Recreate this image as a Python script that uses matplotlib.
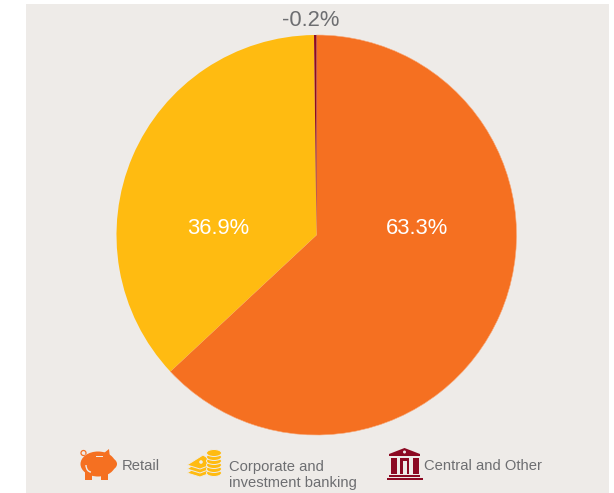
import matplotlib
matplotlib.use('Agg')
import matplotlib.pyplot as plt
from matplotlib.patches import Ellipse, Polygon, Rectangle, Circle, Arc

plt.rcParams['font.family'] = ['Liberation Sans', 'DejaVu Sans']

W, H = 614, 493
BG = '#eeebe8'
GREY = '#6d6e71'
ORANGE = '#f57021'
YELLOW = '#ffbb11'
RED = '#8c0a23'

# share of each segment, the last one is negative so its size is taken as abs
segments = ['Retail', 'Corporate and\ninvestment banking', 'Central and Other']
shares = [63.3, 36.9, -0.2]
colors = [ORANGE, YELLOW, RED]

fig = plt.figure(figsize=(W / 100, H / 100), dpi=100, facecolor='white')

# flat panel behind everything, in pixel coords
bg = fig.add_axes([0, 0, 1, 1])
bg.set_xlim(0, W)
bg.set_ylim(H, 0)
bg.axis('off')
bg.add_patch(Rectangle((26, 4), 583, 489, fc=BG, ec='none'))

# pie
cx, cy, r = 316.5, 235, 200
ax = fig.add_axes([(cx - r) / W, 1 - (cy + r) / H, 2 * r / W, 2 * r / H])
wedges, _ = ax.pie([abs(v) for v in shares], colors=colors, startangle=90, counterclock=False,
                   radius=1, wedgeprops={'linewidth': 0})
ax.set_xlim(-1, 1)
ax.set_ylim(-1, 1)
wedges[0].set(edgecolor='#f8a878', linewidth=0.4)

# second pixel layer so the labels sit on top of the pie
top = fig.add_axes([0, 0, 1, 1])
top.set_xlim(0, W)
top.set_ylim(H, 0)
top.axis('off')
top.patch.set_alpha(0)

# value labels
top.text(417, 228, '%.1f%%' % shares[0], color='white', fontsize=15.8, ha='center', va='center')
top.text(218, 228, '%.1f%%' % shares[1], color='white', fontsize=15.8, ha='center', va='center')
top.text(311, 21, '%.1f%%' % shares[2], color=GREY, fontsize=15.8, ha='center', va='center')


def piggy(a, c):
    a.add_patch(Ellipse((98, 464), 35, 25, fc=c, ec='none'))
    a.add_patch(Polygon([[104, 453], [109, 449], [110, 458]], fc=c, ec='none'))
    a.add_patch(Ellipse((111, 464), 12, 11, fc=c, ec='none'))
    a.add_patch(Rectangle((85, 470), 7, 9.5, fc=c, ec='none'))
    a.add_patch(Rectangle((101, 470), 7, 9.5, fc=c, ec='none'))
    a.add_patch(Arc((83.5, 453), 5, 5, theta1=60, theta2=400, ec=c, lw=0.9))
    a.add_patch(Arc((91, 465), 10, 14, theta1=90, theta2=180, ec=BG, lw=1))
    a.add_patch(Rectangle((96, 455.5), 7, 1, fc=BG, ec='none'))


def coins(a, c):
    # flat notes
    for y in (474, 470, 466):
        a.add_patch(Polygon([[187, y - 1], [203, y - 11], [216, y - 3], [200, y + 3]],
                            fc=c, ec=BG, lw=0.7))
    a.add_patch(Circle((201, 462), 1.8, fc=BG, ec='none'))
    # stack of coins
    for y in (473, 469, 465, 461, 457, 453):
        a.add_patch(Ellipse((214, y), 15, 7, fc=c, ec=BG, lw=0.7))


def bank(a, c):
    a.add_patch(Polygon([[389, 454], [404.5, 448], [420, 454], [420, 456], [389, 456]], fc=c, ec='none'))
    a.add_patch(Circle((404.5, 452), 1.5, fc=BG, ec='none'))
    a.add_patch(Rectangle((391, 458), 5.5, 16, fc=c, ec='none'))
    a.add_patch(Rectangle((413, 458), 5.5, 16, fc=c, ec='none'))
    a.add_patch(Polygon([[400, 458], [409, 458], [409, 474], [406.5, 474], [406.5, 461], [402.5, 461],
                         [402.5, 474], [400, 474]], fc=c, ec='none'))
    a.add_patch(Rectangle((389, 475), 31, 1.8, fc=c, ec='none'))
    a.add_patch(Rectangle((387, 478), 36, 2, fc=c, ec='none'))


piggy(top, ORANGE)
coins(top, YELLOW)
bank(top, RED)

# legend texts
top.text(122, 466.5, segments[0], color=GREY, fontsize=10.6, ha='left', va='center')
top.text(229, 475, segments[1], color=GREY, fontsize=10.6, ha='left', va='center', linespacing=1.2)
top.text(424, 466, segments[2], color=GREY, fontsize=10.6, ha='left', va='center')

fig.savefig('out.png', dpi=100)
